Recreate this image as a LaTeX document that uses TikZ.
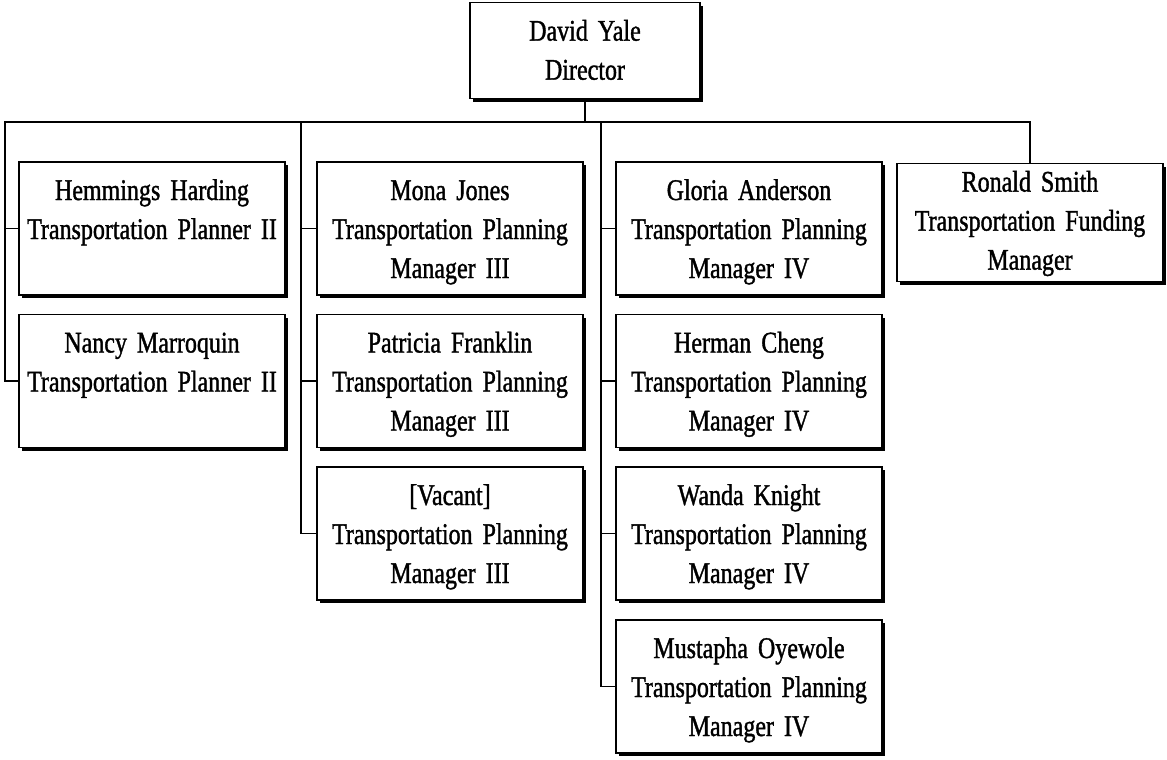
\documentclass[tikz,border=0pt]{standalone}
\usepackage{fontspec}
\setmainfont{Liberation Serif}[FakeStretch=0.8, FakeBold=1.2]
\usetikzlibrary{shadows}

\tikzset{
    post/.style={draw, fill=white, line width=1.3pt, align=center,
        text width=258pt, inner xsep=4pt, inner ysep=0pt,
        text height=38pt, text depth=95pt,
        font={\fontsize{30}{39}\selectfont\spaceskip=5.5pt},
        drop shadow={shadow xshift=3pt, shadow yshift=-3pt, fill=black, opacity=1}},
    boss/.style={post, text width=222pt, text depth=58pt},
    link/.style={line width=1.3pt},
}

\begin{document}
\begin{tikzpicture}[x=1pt,y=-1pt]
    \useasboundingbox (0,0) rectangle (1167,760);

    \node[boss, anchor=north] (yale) at (585,2) {David Yale\\Director};

    \node[post] (harding) at (152,228.5) {Hemmings Harding\\Transportation Planner II};
    \node[post] (marroquin) at (152,381) {Nancy Marroquin\\Transportation Planner II};

    \node[post] (jones) at (450,228.5) {Mona Jones\\Transportation Planning\\Manager III};
    \node[post] (franklin) at (450,381) {Patricia Franklin\\Transportation Planning\\Manager III};
    \node[post] (vacant) at (450,533.5) {[Vacant]\\Transportation Planning\\Manager III};

    \node[post] (anderson) at (749,228.5) {Gloria Anderson\\Transportation Planning\\Manager IV};
    \node[post] (cheng) at (749,381) {Herman Cheng\\Transportation Planning\\Manager IV};
    \node[post] (knight) at (749,533.5) {Wanda Knight\\Transportation Planning\\Manager IV};
    \node[post] (oyewole) at (749,686.5) {Mustapha Oyewole\\Transportation Planning\\Manager IV};

    \node[post, text height=28pt, text depth=90pt, anchor=north] (smith) at (1030,163)
        {Ronald Smith\\Transportation Funding\\Manager};

    % bus under the director
    \coordinate (busL) at (5,122);
    \coordinate (t2) at (301,122);
    \coordinate (t3) at (601,122);
    \draw[link] (yale.south) -- (yale.south |- busL);
    \draw[link] (marroquin.west) -| (busL) -- (smith.north |- busL) -- (smith.north);
    \draw[link] (busL) |- (harding.west);

    \draw[link] (t2) |- (vacant.west);
    \draw[link] (t2) |- (jones.west);
    \draw[link] (t2) |- (franklin.west);

    \draw[link] (t3) |- (oyewole.west);
    \draw[link] (t3) |- (anderson.west);
    \draw[link] (t3) |- (cheng.west);
    \draw[link] (t3) |- (knight.west);
\end{tikzpicture}
\end{document}
